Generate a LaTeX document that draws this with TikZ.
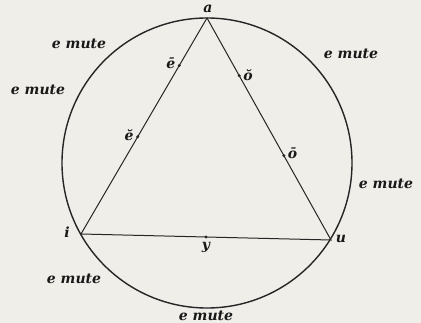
\documentclass[tikz,border=0pt]{standalone}
\usepackage{fontspec}
\setmainfont{DejaVu Serif}
\usetikzlibrary{calc,positioning}
\begin{document}
\begin{tikzpicture}[x=1pt,y=-1pt,
  ink/.style={draw=black!85},
  lbl/.style={font=\fontsize{14}{14}\selectfont\bfseries\itshape, text=black!90, inner sep=1pt},
  mute/.style={font=\fontsize{14}{14}\selectfont\bfseries\itshape, text=black!90, inner sep=1pt},
  pt/.style={circle, fill=black!85, inner sep=0pt, minimum size=3.4pt}]
\definecolor{bg}{RGB}{239,238,233}
\fill[bg] (0,0) rectangle (421,323);
\useasboundingbox (0,0) rectangle (421,323);
\coordinate (c) at (207,163);
\draw[ink, line width=1.4pt] (c) circle[radius=145];
\coordinate (a) at (207,18);
\coordinate (i) at (81,234);
\coordinate (u) at (331,240);
\draw[ink, line width=1pt] (i) -- (a) -- (u) -- cycle;
\node[pt] (e1) at ($(a)!0.22!(i)$) {};
\node[pt] (e2) at ($(a)!0.55!(i)$) {};
\node[pt] (o1) at ($(a)!0.26!(u)$) {};
\node[pt] (o2) at ($(a)!0.62!(u)$) {};
\node[pt] (y) at ($(i)!0.5!(u)$) {};
\node[lbl] (la) at (208,9) {a};
\node[lbl, left=1pt of e1, yshift=2pt] (le1) {ē};
\node[lbl, left=1pt of e2, yshift=2pt] (le2) {ĕ};
\node[lbl, right=1pt of o1, yshift=1pt] (lo1) {ŏ};
\node[lbl, right=1pt of o2, yshift=2pt] (lo2) {ō};
\node[lbl, below=2pt of y] (ly) {y};
\node[lbl] (li) at (67,232) {i};
\node[lbl] (lu) at (341,239) {u};
\node[mute] (m1) at (79,44) {e mute};
\node[mute] (m2) at (38,90) {e mute};
\node[mute] (m3) at (351,54) {e mute};
\node[mute] (m4) at (386,184) {e mute};
\node[mute] (m5) at (74,279) {e mute};
\node[mute] (m6) at (206,316) {e mute};
\end{tikzpicture}
\end{document}
